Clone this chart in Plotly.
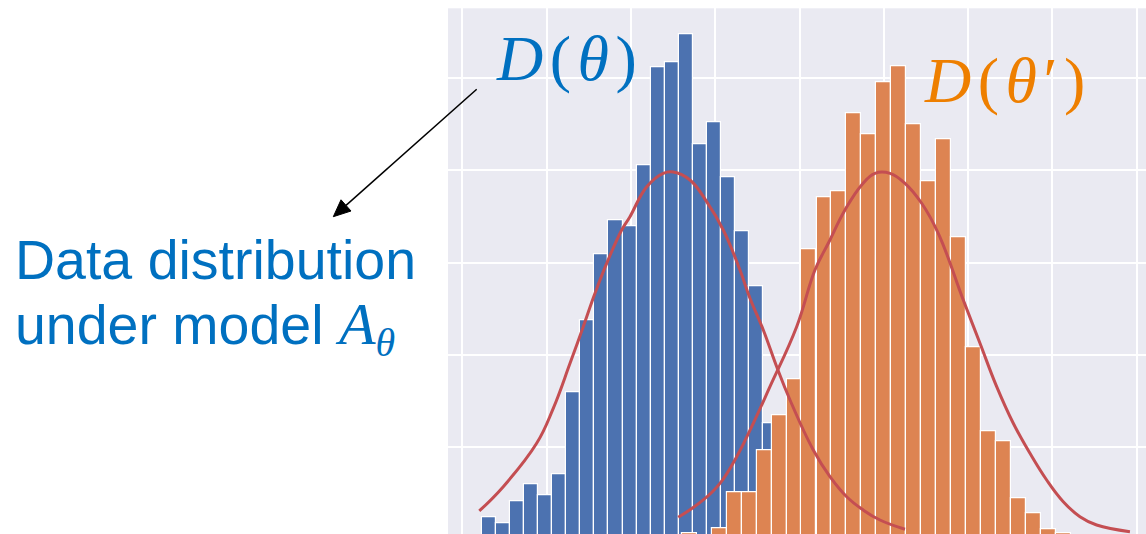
import plotly.graph_objects as go

# ---------------- data ----------------
blue_centers = [0.313, 0.480, 0.647, 0.814, 0.981, 1.148, 1.315, 1.482, 1.649, 1.816,
                1.983, 2.150, 2.317, 2.484, 2.651, 2.818, 2.985, 3.152, 3.319, 3.486, 3.653]
blue_heights = [0.242, 0.177, 0.411, 0.600, 0.476, 0.708, 1.595, 2.378, 3.092, 3.452,
                3.392, 4.048, 5.108, 5.167, 5.470, 4.282, 4.513, 3.922, 3.333, 2.738, 1.260]
blue_bin_width = 0.167

orange_centers = [2.692, 3.047, 3.224, 3.402, 3.580, 3.757, 3.935, 4.112, 4.290, 4.467,
                  4.645, 4.823, 5.000, 5.178, 5.355, 5.533, 5.711, 5.888, 6.066, 6.243,
                  6.421, 6.599, 6.776, 6.954, 7.131]
orange_heights = [0.069, 0.123, 0.509, 0.509, 0.963, 1.350, 1.739, 3.143, 3.706, 3.766,
                  4.615, 4.387, 4.950, 5.127, 4.499, 3.874, 4.333, 3.268, 2.082, 1.176,
                  1.068, 0.448, 0.286, 0.116, 0.067]
orange_bin_width = 0.1776

blue_curve_x = [0.200, 0.485, 0.881, 1.078, 1.277, 1.434, 1.573, 1.712, 1.890, 1.988,
                2.187, 2.383, 2.502, 2.700, 2.898, 3.095, 3.293, 3.412, 3.570, 3.729,
                3.887, 4.163, 4.361, 4.559, 4.756, 4.954, 5.251]
blue_curve_y = [0.311, 0.574, 1.043, 1.422, 1.909, 2.305, 2.667, 2.991, 3.352, 3.496,
                3.820, 3.965, 3.979, 3.893, 3.658, 3.352, 2.919, 2.613, 2.270, 1.872,
                1.512, 0.971, 0.682, 0.465, 0.321, 0.213, 0.113]

orange_curve_x = [2.561, 2.858, 3.056, 3.254, 3.451, 3.649, 3.966, 4.183, 4.341, 4.539,
                  4.737, 4.895, 5.073, 5.251, 5.449, 5.646, 5.943, 6.141, 6.339, 6.536,
                  6.734, 6.932, 7.129, 7.327, 7.525, 7.920]
orange_curve_y = [0.242, 0.430, 0.610, 0.898, 1.260, 1.656, 2.305, 2.919, 3.208, 3.568,
                  3.839, 3.965, 3.965, 3.857, 3.641, 3.316, 2.594, 2.126, 1.656, 1.260,
                  0.935, 0.646, 0.411, 0.249, 0.159, 0.087]

grid_x = [0, 1, 2, 3, 4, 5, 6, 7, 8]
grid_y = [0, 1, 2, 3, 4, 5]

SP = "<span style='font-size:26px'> </span>"
MATH = "font-family:Liberation Serif"
label_left_1 = "Data distribution"
label_left_2 = ("under model <span style='" + MATH + ";font-size:60px'><i>A</i></span>"
                "<sub><span style='" + MATH + ";font-size:40px'><i>θ</i></span></sub>")
label_blue = "<i>D</i>" + SP + "(" + SP + "<i>θ</i>" + SP + ")"
label_orange = "<i>D</i>" + SP + "(" + SP + "<i>θ</i>" + SP + "′" + SP + ")"

# ---------------- figure ----------------
W, H = 1146, 534
BLUE_BAR = "#4C72B0"
ORANGE_BAR = "#DD8452"
RED = "#C44E52"
TXT_BLUE = "#0070C0"
TXT_ORANGE = "#EE7F00"

fig = go.Figure()
fig.add_trace(go.Bar(x=blue_centers, y=blue_heights, width=blue_bin_width,
                     marker=dict(color=BLUE_BAR, line=dict(color="white", width=1.2)),
                     showlegend=False, hoverinfo="skip"))
fig.add_trace(go.Bar(x=orange_centers, y=orange_heights, width=orange_bin_width,
                     marker=dict(color=ORANGE_BAR, line=dict(color="white", width=1.2)),
                     showlegend=False, hoverinfo="skip"))
fig.add_trace(go.Scatter(x=blue_curve_x, y=blue_curve_y, mode="lines",
                         line=dict(color=RED, width=3, shape="spline", smoothing=1.2),
                         showlegend=False, hoverinfo="skip"))
fig.add_trace(go.Scatter(x=orange_curve_x, y=orange_curve_y, mode="lines",
                         line=dict(color=RED, width=3, shape="spline", smoothing=1.2),
                         showlegend=False, hoverinfo="skip"))


def px(x):
    return x / W


def py(y):
    return 1 - y / H


annotations = [
    dict(text=label_blue, x=px(494), y=py(58), xref="paper", yref="paper",
         xanchor="left", yanchor="middle", showarrow=False,
         font=dict(family="Liberation Serif", size=64, color=TXT_BLUE)),
    dict(text=label_orange, x=px(922), y=py(80), xref="paper", yref="paper",
         xanchor="left", yanchor="middle", showarrow=False,
         font=dict(family="Liberation Serif", size=64, color=TXT_ORANGE)),
    dict(text=label_left_1, x=px(13), y=py(260), xref="paper", yref="paper",
         xanchor="left", yanchor="middle", showarrow=False,
         font=dict(family="Liberation Sans", size=55.5, color=TXT_BLUE)),
    dict(text=label_left_2, x=px(13), y=py(328), xref="paper", yref="paper",
         xanchor="left", yanchor="middle", showarrow=False,
         font=dict(family="Liberation Sans", size=55.5, color=TXT_BLUE)),
]

# arrow: line plus filled head (paper coordinates)
arrow_start = (476.7, 89.3)
arrow_base = (346.0, 205.4)
arrow_tip = (333.3, 216.7)
arrow_c1 = (351.0, 211.0)
arrow_c2 = (341.0, 199.8)
shapes = [
    dict(type="line", xref="paper", yref="paper",
         x0=px(arrow_start[0]), y0=py(arrow_start[1]),
         x1=px(arrow_base[0]), y1=py(arrow_base[1]),
         line=dict(color="black", width=1.5)),
    dict(type="path", xref="paper", yref="paper",
         path="M {} {} L {} {} L {} {} Z".format(px(arrow_tip[0]), py(arrow_tip[1]),
                                                px(arrow_c1[0]), py(arrow_c1[1]),
                                                px(arrow_c2[0]), py(arrow_c2[1])),
         fillcolor="black", line=dict(color="black", width=1)),
]

fig.update_layout(
    width=W, height=H,
    margin=dict(l=0, r=0, t=0, b=0),
    paper_bgcolor="white",
    plot_bgcolor="#EAEAF2",
    barmode="overlay",
    bargap=0,
    xaxis=dict(domain=[448 / W, 1], range=[-0.1708, 8.1106], tickmode="array",
               tickvals=grid_x, showticklabels=False, ticks="", showgrid=True,
               gridcolor="white", gridwidth=1.5, zeroline=False, showline=False),
    yaxis=dict(domain=[0, 1 - 8.3 / H], range=[0.0617, 5.751], tickmode="array",
               tickvals=grid_y, showticklabels=False, ticks="", showgrid=True,
               gridcolor="white", gridwidth=1.5, zeroline=False, showline=False),
    annotations=annotations,
    shapes=shapes,
)

fig.write_html("out.html", config={"displayModeBar": False},
               post_script="document.body.style.margin='0px';")
